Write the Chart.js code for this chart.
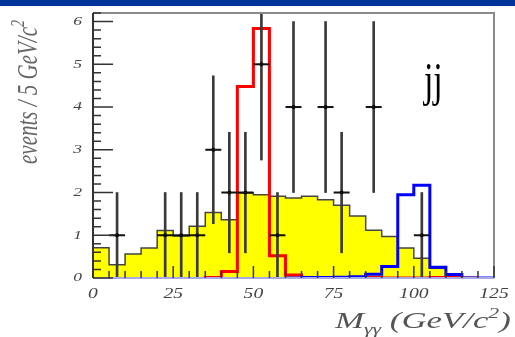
<!DOCTYPE html>
<html>
<head>
<meta charset="utf-8">
<title>Diphoton mass, jj channel</title>
<script src="https://cdn.jsdelivr.net/npm/chart.js@4.4.0/dist/chart.umd.min.js"></script>
<style>
  html, body { margin: 0; padding: 0; background: #fff; }
  #wrap { position: relative; width: 515px; height: 337px; }
  #topbar { position: absolute; left: 0; top: 0; width: 515px; height: 6px; background: #003399; }
  canvas { display: block; }
</style>
</head>
<body>
<div id="wrap">
  <canvas id="mass-chart" width="515" height="337"></canvas>
  <div id="topbar"></div>
</div>
<script>
// Lower edges of the 5 GeV/c2 bins, last one closes at 125
const binLow = [0, 5, 10, 15, 20, 25, 30, 35, 40, 45, 50, 55, 60, 65, 70, 75, 80, 85, 90, 95, 100, 105, 110, 115, 120];
const massMax = 125;

// Expected background (yellow)
const background = [0.71, 0.31, 0.56, 0.70, 1.11, 0.98, 1.21, 1.53, 1.36, 1.99, 1.95, 1.91, 1.87, 1.91, 1.83, 1.70, 1.45, 1.12, 0.97, 0.70, 0.46, 0.23, 0.02, 0, 0];

// Signal shapes, starting at a given bin edge
const signalLowStart = 35;
const signalLow = [0.01, 0.15, 4.48, 5.84, 0.52, 0.07, 0.01, 0, 0, 0, 0.01, 0, 0, 0, 0.01, 0.01, 0];
const signalHighStart = 60;
const signalHigh = [0, 0.01, 0.01, 0.02, 0.03, 0.09, 0.27, 1.95, 2.17, 0.25, 0.08, 0, 0];

// Observed events with their errors
const dataMass = [7.5, 22.5, 27.5, 32.5, 37.5, 42.5, 47.5, 52.5, 57.5, 62.5, 72.5, 77.5, 87.5, 102.5];
const dataCounts = [1, 1, 1, 1, 3, 2, 2, 5, 1, 4, 4, 2, 4, 1];
const dataErrors = [1, 1, 1, 1, 1.73, 1.41, 1.41, 2.24, 1, 2, 2, 1.41, 2, 1];

const yMax = 6.2;

const serif = '"Liberation Serif", "Times New Roman", serif';

// Turn bin contents into points for a stepped outline
function histPoints(start, values) {
  const first = binLow.indexOf(start);
  const pts = [{ x: start, y: 0 }];
  values.forEach((v, i) => pts.push({ x: binLow[first + i], y: v }));
  const end = first + values.length < binLow.length ? binLow[first + values.length] : massMax;
  pts.push({ x: end, y: values[values.length - 1] });
  pts.push({ x: end, y: 0 });
  return pts;
}

// Draw a run of text pieces (sub/superscripts) with a horizontal stretch
function drawRuns(ctx, runs, sx, align) {
  let total = 0;
  runs.forEach(r => { ctx.font = r.font; total += ctx.measureText(r.text).width; });
  ctx.save();
  ctx.scale(sx, 1);
  let cx = align === 'center' ? -total / 2 : (align === 'right' ? -total : 0);
  ctx.textAlign = 'left';
  runs.forEach(r => {
    ctx.font = r.font;
    ctx.fillText(r.text, cx, r.dy || 0);
    cx += ctx.measureText(r.text).width;
  });
  ctx.restore();
}

// Frame, inward ticks, labels and axis titles
const frameAndText = {
  id: 'frameAndText',
  afterDatasetsDraw(chart) {
    const ctx = chart.ctx;
    const xs = chart.scales.x;
    const ys = chart.scales.y;
    const a = chart.chartArea;
    ctx.save();

    // top and right frame
    ctx.strokeStyle = '#8a8a8a';
    ctx.lineWidth = 2;
    ctx.beginPath();
    ctx.moveTo(a.left, a.top);
    ctx.lineTo(a.right, a.top);
    ctx.lineTo(a.right, a.bottom);
    ctx.stroke();

    // bottom axis line
    ctx.strokeStyle = '#a9a9e8';
    ctx.beginPath();
    ctx.moveTo(a.left, a.bottom);
    ctx.lineTo(a.right, a.bottom);
    ctx.stroke();

    // left axis line
    ctx.strokeStyle = '#333';
    ctx.beginPath();
    ctx.moveTo(a.left, a.top);
    ctx.lineTo(a.left, a.bottom);
    ctx.stroke();

    // y ticks pointing in
    ctx.lineWidth = 1.5;
    ctx.strokeStyle = '#333';
    ctx.beginPath();
    for (let k = 0; k <= Math.round(yMax * 5); k++) {
      const py = ys.getPixelForValue(k / 5);
      const len = k % 5 === 0 ? 20 : 8;
      ctx.moveTo(a.left, py);
      ctx.lineTo(a.left + len, py);
    }
    // x ticks pointing up
    for (let m = 0; m <= massMax; m += 5) {
      const px = xs.getPixelForValue(m);
      const len = m % 25 === 0 ? 12 : 7;
      ctx.moveTo(px, a.bottom);
      ctx.lineTo(px, a.bottom - len);
    }
    ctx.stroke();

    // tick labels
    ctx.fillStyle = '#444';
    ctx.textBaseline = 'middle';
    ys.ticks.forEach(t => {
      ctx.save();
      ctx.translate(a.left - 11, ys.getPixelForValue(t.value));
      drawRuns(ctx, [{ text: String(t.value), font: 'italic 13px ' + serif }], 1.35, 'right');
      ctx.restore();
    });
    ctx.textBaseline = 'alphabetic';
    xs.ticks.forEach(t => {
      ctx.save();
      ctx.translate(xs.getPixelForValue(t.value), 298);
      drawRuns(ctx, [{ text: String(t.value), font: 'italic 14px ' + serif }], 1.4, 'center');
      ctx.restore();
    });

    // x title
    ctx.fillStyle = '#555';
    ctx.save();
    ctx.translate(335, 328);
    drawRuns(ctx, [
      { text: 'M', font: 'italic 24px ' + serif },
      { text: 'γγ', font: 'italic 15px ' + serif, dy: 6 },
      { text: ' (GeV/c', font: 'italic 24px ' + serif },
      { text: '2', font: 'italic 15px ' + serif, dy: -10 },
      { text: ')', font: 'italic 24px ' + serif }
    ], 1.45, 'left');
    ctx.restore();

    // y title, rotated
    ctx.fillStyle = '#666';
    ctx.save();
    ctx.translate(37, 92);
    ctx.rotate(-Math.PI / 2);
    ctx.scale(1, 1.4);
    drawRuns(ctx, [
      { text: 'events / 5 GeV/c', font: 'italic 21px ' + serif },
      { text: '2', font: 'italic 14px ' + serif, dy: -9 }
    ], 1, 'center');
    ctx.restore();

    // channel label
    ctx.fillStyle = '#000';
    ctx.save();
    ctx.translate(424, 96);
    drawRuns(ctx, [{ text: 'jj', font: '48px ' + serif }], 0.7, 'left');
    ctx.restore();

    ctx.restore();
  }
};

const ctx = document.getElementById('mass-chart').getContext('2d');
const massChart = new Chart(ctx, {
  type: 'line',
  data: {
    datasets: [
      {
        type: 'scatter',
        label: 'data',
        data: dataMass.map((m, i) => ({ x: m, y: dataCounts[i] })),
        pointStyle: 'line',
        pointRadius: 8,
        borderColor: '#111',
        borderWidth: 2,
        order: 0
      },
      {
        type: 'scatter',
        label: 'data dots',
        data: dataMass.map((m, i) => ({ x: m, y: dataCounts[i] })),
        pointStyle: 'circle',
        pointRadius: 2,
        backgroundColor: '#000',
        borderWidth: 0,
        order: 0
      },
      {
        type: 'bar',
        label: 'errors',
        data: dataMass.map((m, i) => ({ x: m, y: [dataCounts[i] - dataErrors[i], dataCounts[i] + dataErrors[i]] })),
        backgroundColor: '#3a3a3a',
        barThickness: 2,
        order: 1
      },
      {
        label: 'signal 100',
        data: histPoints(signalHighStart, signalHigh),
        stepped: 'before',
        borderColor: '#0000ff',
        borderWidth: 3,
        pointRadius: 0,
        fill: false,
        order: 2
      },
      {
        label: 'signal 50',
        data: histPoints(signalLowStart, signalLow),
        stepped: 'before',
        borderColor: '#ff0000',
        borderWidth: 3,
        pointRadius: 0,
        fill: false,
        order: 3
      },
      {
        label: 'background',
        data: histPoints(0, background),
        stepped: 'before',
        borderColor: '#444',
        borderWidth: 1.5,
        backgroundColor: '#ffff00',
        pointRadius: 0,
        fill: 'origin',
        order: 4
      }
    ]
  },
  options: {
    responsive: false,
    animation: false,
    layout: { padding: { top: 13, right: 21, left: 0, bottom: 0 } },
    plugins: { legend: { display: false }, tooltip: { enabled: false } },
    scales: {
      x: {
        type: 'linear',
        min: 0,
        max: massMax,
        offset: false,
        grid: { display: false, offset: false },
        border: { display: false },
        ticks: { display: false, stepSize: 25 },
        afterFit(scale) { scale.height = 59; }
      },
      y: {
        type: 'linear',
        min: 0,
        max: yMax,
        grid: { display: false },
        border: { display: false },
        ticks: { display: false, stepSize: 1, includeBounds: false },
        afterFit(scale) { scale.width = 93; }
      }
    }
  },
  plugins: [frameAndText]
});
</script>
</body>
</html>
